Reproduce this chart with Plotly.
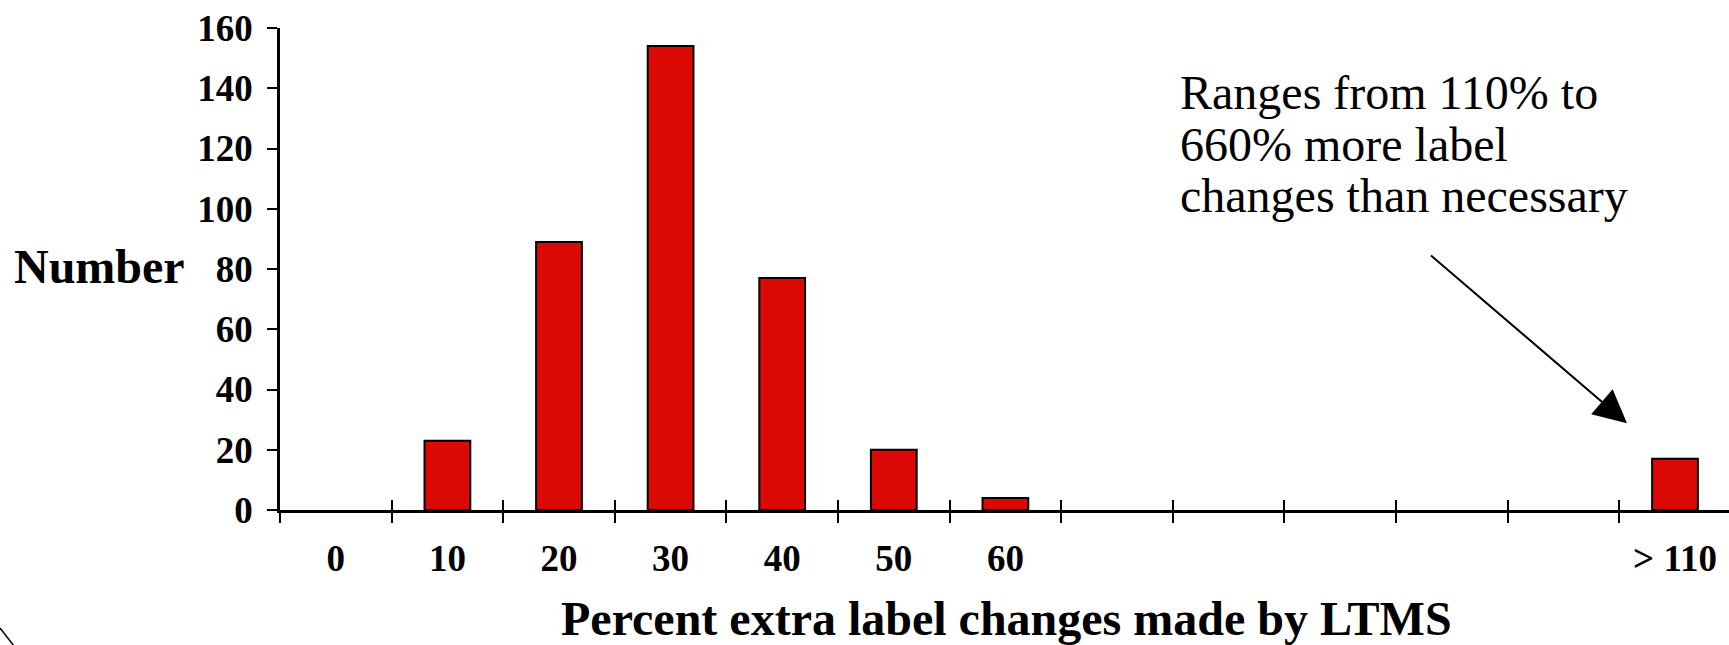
import plotly.graph_objects as go

# ---------------- data ----------------
categories = ["0", "10", "20", "30", "40", "50", "60", "70", "80", "90", "100", "110", "> 110"]
tick_labels = ["0", "10", "20", "30", "40", "50", "60", "", "", "", "", "", "> 110"]
counts = [0, 23, 89, 154, 77, 20, 4, 0, 0, 0, 0, 0, 17]
y_ticks = [0, 20, 40, 60, 80, 100, 120, 140, 160]
note_lines = ["Ranges from 110% to", "660% more label", "changes than necessary"]
x_title = "Percent extra label changes made by LTMS"
y_title = "Number"

# ---------------- layout geometry ----------------
W, H = 1729, 645
L, R, T, B = 280, 0, 28, 135
PW, PH = W - L - R, H - T - B


def pap_x(px):
    return (px - L) / PW


def pap_y(py):
    return (H - B - py) / PH


SERIF = "Liberation Serif"
BAR_RED = "#dc0806"

fig = go.Figure()
fig.add_trace(go.Bar(
    x=categories, y=[v if v else None for v in counts],
    marker=dict(color=BAR_RED, line=dict(color="black", width=2)),
    hoverinfo="x+y", showlegend=False,
))
# invisible helper trace so the overlay axis (inside half of the cross ticks) knows the categories
fig.add_trace(go.Scatter(
    x=categories, y=[0] * len(categories), xaxis="x2", mode="markers",
    marker=dict(opacity=0), hoverinfo="skip", showlegend=False,
))

# x range so that the 13 equal cells run from the y axis to just past the right edge
cell_px = 111.6
x_range = [-0.5, -0.5 + PW / cell_px]

fig.update_layout(
    width=W, height=H, autosize=False,
    margin=dict(l=L, r=R, t=T, b=B, pad=0),
    paper_bgcolor="white", plot_bgcolor="white",
    font=dict(family=SERIF, color="black"),
    bargap=0.59,
    xaxis=dict(
        type="category", categoryorder="array", categoryarray=categories,
        range=x_range, tickmode="array", tickvals=categories, ticktext=tick_labels,
        tickson="boundaries", ticks="outside", ticklen=10, tickwidth=2, tickcolor="black",
        showline=True, linecolor="black", linewidth=2.5, showgrid=False, zeroline=False,
        tickfont=dict(family=SERIF, size=37, color="black", weight="bold"),
        ticklabelstandoff=14, automargin=False, fixedrange=True,
    ),
    xaxis2=dict(
        type="category", categoryorder="array", categoryarray=categories,
        overlaying="x", matches="x", range=x_range, tickmode="array", tickvals=categories,
        tickson="boundaries", ticks="inside", ticklen=10, tickwidth=2, tickcolor="black",
        showticklabels=False, showline=False, showgrid=False, zeroline=False,
        automargin=False, fixedrange=True,
    ),
    yaxis=dict(
        range=[0, 160], tickmode="array", tickvals=y_ticks,
        ticks="outside", ticklen=10, tickwidth=2, tickcolor="black",
        showline=True, linecolor="black", linewidth=2.5, showgrid=False, zeroline=False,
        tickfont=dict(family=SERIF, size=37, color="black", weight="bold"),
        ticklabelstandoff=7, automargin=False, fixedrange=True,
    ),
)

annotations = []
# y title (horizontal, left of the tick labels)
annotations.append(dict(
    text=f"<b>{y_title}</b>", xref="paper", yref="paper",
    x=pap_x(187), y=pap_y(266), xanchor="right", yanchor="middle",
    showarrow=False, font=dict(family=SERIF, size=48, color="black"),
))
# x title
annotations.append(dict(
    text=f"<b>{x_title}</b>", xref="paper", yref="paper",
    x=pap_x(1006), y=pap_y(618), xanchor="center", yanchor="middle",
    showarrow=False, font=dict(family=SERIF, size=48, color="black"),
))
# note text, one annotation per line to keep the tight line spacing
for i, line in enumerate(note_lines):
    annotations.append(dict(
        text=line, xref="paper", yref="paper",
        x=pap_x(1178), y=pap_y(93 + 51 * i), xanchor="left", yanchor="middle",
        showarrow=False, font=dict(family=SERIF, size=48, color="black"),
    ))
# arrow pointing at the "> 110" bar
annotations.append(dict(
    text="", x=11.57, y=28.8, xref="x", yref="y",
    ax=9.80, ay=84.9, axref="x", ayref="y",
    showarrow=True, arrowhead=2, arrowsize=3.3, arrowwidth=2, arrowcolor="black",
    standoff=0,
))
fig.update_layout(annotations=annotations)

# decorative corner stroke at the bottom-left of the slide
fig.add_shape(type="line", xref="paper", yref="paper",
              x0=pap_x(0), y0=pap_y(628), x1=pap_x(14), y1=pap_y(646),
              line=dict(color="black", width=1.5))

fig.write_html(
    "out.html",
    config={"displayModeBar": False, "staticPlot": False},
    post_script="document.body.style.margin='0';document.body.style.overflow='hidden';",
)
